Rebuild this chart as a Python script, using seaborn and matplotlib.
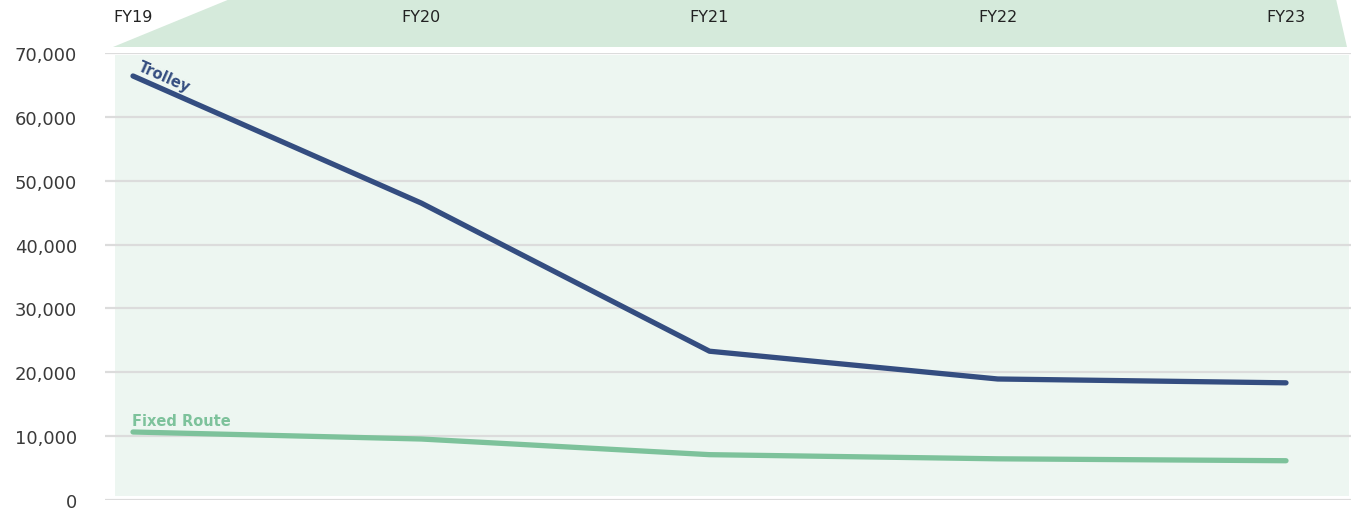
import matplotlib
matplotlib.use("Agg")
import matplotlib.pyplot as plt
import matplotlib.patches as mpatches
import seaborn as sns
import pandas as pd

# data
years = ["FY19", "FY20", "FY21", "FY22", "FY23"]
trolley = [66400, 46500, 23300, 18950, 18350]
fixed_route = [10650, 9550, 7100, 6450, 6150]
y_ticks = [0, 10000, 20000, 30000, 40000, 50000, 60000, 70000]

navy = "#344d80"
green = "#7dc29b"

sns.set_theme(style="white")
plt.rcParams['font.family'] = ['DejaVu Sans']

df = pd.DataFrame({
    "year": list(range(len(years))) * 2,
    "value": trolley + fixed_route,
    "series": ["Trolley"] * len(years) + ["Fixed Route"] * len(years),
})

W, H = 1351, 510
fig = plt.figure(figsize=(W / 100, H / 100), dpi=100)
# axes spans gridline area: x 105..1351 px, y 54..501 px
ax = fig.add_axes([105 / W, (H - 501) / H, (W - 105) / W, (501 - 54) / H])

px_per_x = (1286 - 133) / 4
def xd(px):
    return (px - 133) / px_per_x
def yd(py):
    return (501 - py) / 447 * 70000

ax.set_xlim(xd(105), xd(W))
ax.set_ylim(0, 70000)

# light panel behind the plot
ax.add_patch(mpatches.Rectangle((xd(115), yd(497)), xd(1349) - xd(115), yd(56) - yd(497),
                                facecolor="#edf6f1", edgecolor="none", zorder=0.1))
# header band
header = mpatches.Polygon([(xd(113), yd(48)), (xd(230), yd(0)), (xd(1336), yd(0)), (xd(1347), yd(48))],
                          closed=True, facecolor="#d5eadb", edgecolor="none", zorder=0.1, clip_on=False)
ax.add_patch(header)

sns.lineplot(data=df, x="year", y="value", hue="series", palette={"Trolley": navy, "Fixed Route": green},
             linewidth=3.8, ax=ax, legend=False, zorder=3)
for ln in ax.lines:
    ln.set_solid_capstyle("round")
    ln.set_solid_joinstyle("round")

ax.set_yticks(y_ticks)
ax.set_yticklabels([f"{v:,}" for v in y_ticks], fontsize=13, color="#3a3a3a")
ax.set_xticks([])
ax.tick_params(axis="y", length=0, pad=20)
ax.yaxis.grid(True, color="#dcdcdc", linewidth=1.6)
ax.set_axisbelow(True)
for s in ax.spines.values():
    s.set_visible(False)
ax.set_xlabel("")
ax.set_ylabel("")
ax.patch.set_alpha(0)

# year labels in the header band
for i, yr in enumerate(years):
    ax.text(i, yd(18), yr, ha="center", va="center", fontsize=11.5, color="#222222", clip_on=False)

# series labels
ax.text(xd(164), yd(77), "Trolley", ha="center", va="center", rotation=-24, rotation_mode="anchor",
        fontsize=10.5, fontweight="bold", color=navy)
ax.text(xd(181), yd(422), "Fixed Route", ha="center", va="center",
        fontsize=10.5, fontweight="bold", color=green)

fig.savefig("out.png", dpi=100)
